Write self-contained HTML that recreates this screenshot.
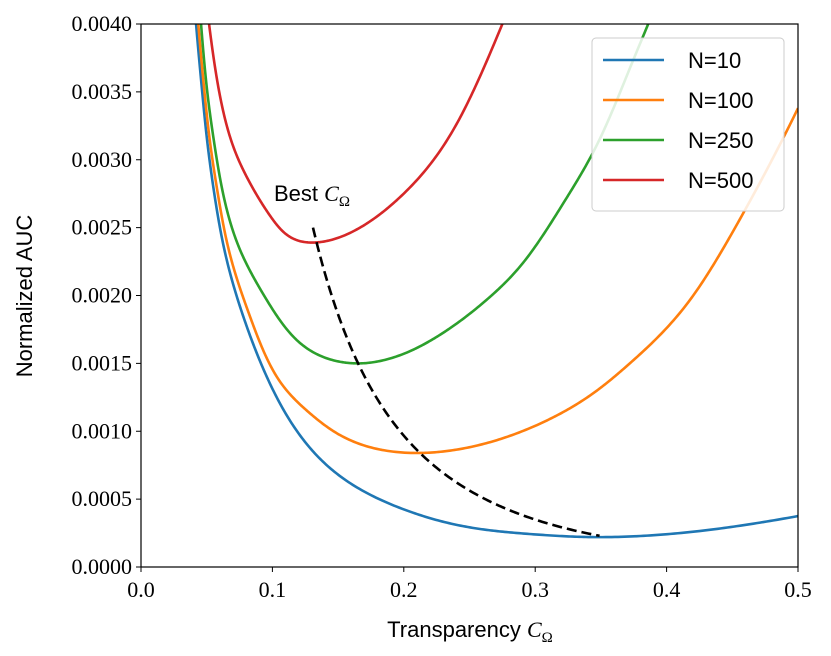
<!DOCTYPE html>
<html><head><meta charset="utf-8"><style>
body{margin:0;background:#fff}
svg{display:block}
.tk{font-family:"Liberation Serif",serif;font-size:22px;fill:#000}
.sl{font-family:"Liberation Sans",sans-serif;font-size:22px;fill:#000}
</style></head><body>
<svg id="c" width="831" height="656" viewBox="0 0 831 656">
<defs><clipPath id="clip"><rect x="141" y="24" width="657" height="543"/></clipPath></defs>
<g id="plot" clip-path="url(#clip)"></g>
<rect x="141" y="24" width="657" height="543" fill="none" stroke="#000" stroke-width="1.2"/>
<g id="ticks"></g>
<text class="sl" x="470" y="637" text-anchor="middle">Transparency <tspan font-family="Liberation Serif" font-style="italic">C</tspan><tspan font-family="Liberation Serif" font-size="15" dy="5">Ω</tspan></text>
<text class="sl" transform="translate(32,296) rotate(-90)" text-anchor="middle">Normalized AUC</text>
<text class="sl" x="274" y="201">Best <tspan font-family="Liberation Serif" font-style="italic">C</tspan><tspan font-family="Liberation Serif" font-size="15" dy="5">Ω</tspan></text>
<g id="legend">
<rect x="592" y="38" width="192" height="173" rx="4" fill="#fff" fill-opacity="0.85" stroke="#ccc" stroke-width="1"/>
</g>
</svg>
<script>
const xTicks=[0,0.1,0.2,0.3,0.4,0.5];
const yTicks=[0,0.0005,0.001,0.0015,0.002,0.0025,0.003,0.0035,0.004];
const yTickLabels=["0.0000","0.0005","0.0010","0.0015","0.0020","0.0025","0.0030","0.0035","0.0040"];
const seriesNames=["N=10","N=100","N=250","N=500"];
const seriesColors=["#1f77b4","#ff7f0e","#2ca02c","#d62728"];
const n10X=[0.0419,0.0462,0.050,0.055,0.0614,0.0779,0.0957,0.121,0.1514,0.207,0.258,0.300,0.349,0.425,0.5];
const n10Y=[0.00400,0.003538,0.00317,0.002801,0.002433,0.001844,0.001402,0.00097,0.00067,0.00040,0.00028,0.00024,0.00022,0.000265,0.000375];
const n100X=[0.0436,0.0479,0.052,0.0576,0.0645,0.0733,0.083,0.1033,0.1286,0.1514,0.2123,0.258,0.309,0.347,0.372,0.418,0.451,0.5];
const n100Y=[0.00400,0.003538,0.00317,0.002801,0.002433,0.002114,0.001844,0.001402,0.001132,0.000972,0.00084,0.00090,0.00108,0.00130,0.00150,0.00197,0.00248,0.00338];
const n250X=[0.0457,0.050,0.055,0.0614,0.0715,0.0868,0.0957,0.1185,0.1514,0.1667,0.207,0.2275,0.2656,0.2907,0.3227,0.349,0.374,0.386];
const n250Y=[0.00400,0.003538,0.00317,0.002801,0.002433,0.002114,0.001967,0.001672,0.001512,0.00150,0.00160,0.00171,0.00199,0.00224,0.00270,0.00315,0.00372,0.0040];
const n500X=[0.0518,0.0588,0.0677,0.0804,0.0969,0.1096,0.131,0.1667,0.202,0.240,0.275];
const n500Y=[0.00400,0.003538,0.00317,0.002875,0.002606,0.002458,0.00239,0.00250,0.00277,0.00326,0.0040];
const bestX=[0.1309,0.1438,0.1667,0.2123,0.258,0.288,0.349];
const bestY=[0.00250,0.00204,0.00147,0.00084,0.00052,0.00039,0.00023];
const NS="http://www.w3.org/2000/svg";
const sx=v=>141+v/0.5*657, sy=v=>567-v/0.004*543;
function path(xs,ys){
  const X=xs.map(Math.log),Y=ys.map(Math.log),n=X.length;
  const h=[],al=[0],l=[1],mu=[0],z=[0],c=new Array(n).fill(0),b=[],d=[];
  for(let i=0;i<n-1;i++)h.push(X[i+1]-X[i]);
  for(let i=1;i<n-1;i++)al.push(3/h[i]*(Y[i+1]-Y[i])-3/h[i-1]*(Y[i]-Y[i-1]));
  for(let i=1;i<n-1;i++){l[i]=2*(X[i+1]-X[i-1])-h[i-1]*mu[i-1];mu[i]=h[i]/l[i];z[i]=(al[i]-h[i-1]*z[i-1])/l[i];}
  for(let j=n-2;j>=0;j--){c[j]=(j>0?z[j]:0)-mu[j]*c[j+1];b[j]=(Y[j+1]-Y[j])/h[j]-h[j]*(c[j+1]+2*c[j])/3;d[j]=(c[j+1]-c[j])/(3*h[j]);}
  let s="M"+sx(xs[0]).toFixed(2)+","+sy(ys[0]).toFixed(2);
  for(let i=0;i<n-1;i++){
    for(let k=1;k<=30;k++){
      const t=h[i]*k/30;
      const yy=Y[i]+b[i]*t+c[i]*t*t+d[i]*t*t*t;
      s+=" L"+sx(Math.exp(X[i]+t)).toFixed(2)+","+sy(Math.exp(yy)).toFixed(2);
    }
  }
  return s;
}
const plot=document.getElementById('plot');
const sets=[[n10X,n10Y],[n100X,n100Y],[n250X,n250Y],[n500X,n500Y]];
const lineNames=['line-n10','line-n100','line-n250','line-n500'];
sets.forEach((s,i)=>{
  const el=document.createElementNS(NS,'path');
  el.setAttribute('d',path(s[0],s[1]));
  el.setAttribute('fill','none');el.setAttribute('stroke',seriesColors[i]);el.setAttribute('stroke-width','2.6');
  
  
  plot.appendChild(el);
});
const b=document.createElementNS(NS,'path');
b.setAttribute('d',path(bestX,bestY));
b.setAttribute('fill','none');b.setAttribute('stroke','#000');b.setAttribute('stroke-width','2.6');b.setAttribute('stroke-dasharray','10,5');


plot.appendChild(b);
const tk=document.getElementById('ticks');
xTicks.forEach(v=>{
  const l=document.createElementNS(NS,'line');
  l.setAttribute('x1',sx(v));l.setAttribute('x2',sx(v));l.setAttribute('y1',567);l.setAttribute('y2',572);l.setAttribute('stroke','#000');
  
  
  tk.appendChild(l);
  const t=document.createElementNS(NS,'text');
  t.setAttribute('x',sx(v));t.setAttribute('y',597);t.setAttribute('text-anchor','middle');t.setAttribute('class','tk');
  t.textContent=v.toFixed(1);
  
  
  tk.appendChild(t);
});
yTicks.forEach((v,i)=>{
  const l=document.createElementNS(NS,'line');
  l.setAttribute('x1',136);l.setAttribute('x2',141);l.setAttribute('y1',sy(v));l.setAttribute('y2',sy(v));l.setAttribute('stroke','#000');
  
  
  tk.appendChild(l);
  const t=document.createElementNS(NS,'text');
  t.setAttribute('x',132);t.setAttribute('y',sy(v)+7);t.setAttribute('text-anchor','end');t.setAttribute('class','tk');
  t.textContent=yTickLabels[i];
  
  
  tk.appendChild(t);
});
const lg=document.getElementById('legend');
seriesNames.forEach((n,i)=>{
  const y=60+i*40;
  const l=document.createElementNS(NS,'line');
  l.setAttribute('x1',603);l.setAttribute('x2',664);l.setAttribute('y1',y);l.setAttribute('y2',y);
  l.setAttribute('stroke',seriesColors[i]);l.setAttribute('stroke-width','2.6');
  
  
  lg.appendChild(l);
  const t=document.createElementNS(NS,'text');
  t.setAttribute('x',688);t.setAttribute('y',y+8);t.setAttribute('class','sl');
  t.textContent=n;
  
  
  lg.appendChild(t);
});
</script>
</body></html>
